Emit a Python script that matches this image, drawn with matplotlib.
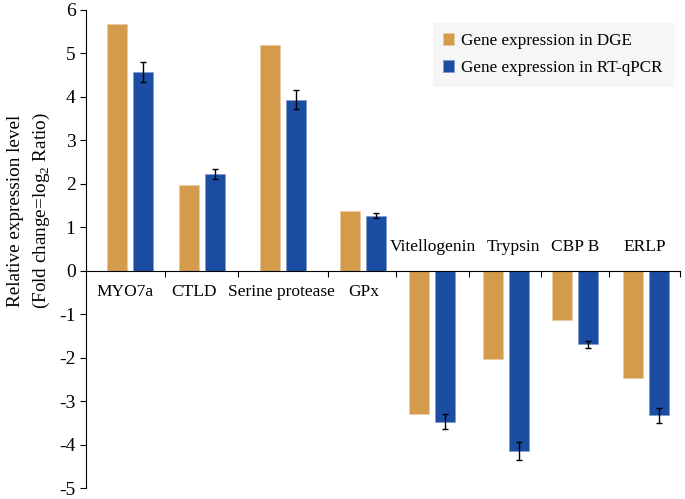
import numpy as np
import matplotlib.pyplot as plt

plt.rcParams['font.family'] = ['Liberation Serif', 'DejaVu Serif']
plt.rcParams['mathtext.fontset'] = 'custom'
plt.rcParams['mathtext.rm'] = 'Liberation Serif'
plt.rcParams['axes.unicode_minus'] = False

genes = ['MYO7a', 'CTLD', 'Serine protease', 'GPx', 'Vitellogenin', 'Trypsin', 'CBP B', 'ERLP']
dge = [5.67, 1.97, 5.19, 1.38, -3.29, -2.03, -1.13, -2.46]
qpcr = [4.58, 2.23, 3.94, 1.27, -3.47, -4.15, -1.69, -3.33]
qpcr_err = [0.23, 0.11, 0.21, 0.05, 0.18, 0.21, 0.08, 0.17]

# group layout (the original figure has uneven group spacing)
centers = [0, 0.977, 2.076, 3.161, 4.098, 5.102, 6.038, 7.0]
bounds = [0.475, 1.465, 2.686, 3.609, 4.600, 5.577, 6.499, 7.463]
label_x = [-0.07, 0.866, 2.06, 3.175, 4.11, 5.20, 6.04, 6.99]

orange = '#D39B4B'
blue = '#1B4EA2'

fig = plt.figure(figsize=(6.85, 4.99), dpi=100)
ax = fig.add_axes([0.1255, 0.022, 0.8672, 0.958])

x = np.array(centers)
w = 0.27
gap = 0.08
ax.bar(x - (w + gap) / 2, dge, w, color=orange, edgecolor='#E8C9A0', linewidth=0.5,
       label='Gene expression in DGE')
ax.bar(x + (w + gap) / 2, qpcr, w, color=blue, edgecolor='#7E9BCB', linewidth=0.5,
       label='Gene expression in RT-qPCR')
ax.errorbar(x + (w + gap) / 2, qpcr, yerr=qpcr_err, fmt='none', ecolor='black',
            elinewidth=1, capsize=2.5, capthick=1)

ax.set_xlim(-0.597, bounds[-1])
ax.set_ylim(-5, 6)
ax.set_yticks(range(-5, 7))
ax.spines['top'].set_visible(False)
ax.spines['right'].set_visible(False)
ax.spines['bottom'].set_position(('data', 0))
ax.tick_params(axis='y', labelsize=14, length=4, direction='out')
ax.set_xticks(bounds)
ax.tick_params(axis='x', length=4, direction='out', labelbottom=False)

for i, g in enumerate(genes):
    if dge[i] >= 0:
        ax.text(label_x[i], -0.48, g, ha='center', va='center', fontsize=12.5)
    else:
        ax.text(label_x[i], 0.55, g, ha='center', va='center', fontsize=12.5)

ax.set_ylabel('Relative expression level\n(Fold change=log$_{2}$ Ratio)', fontsize=13.8,
              linespacing=1.4)
ax.yaxis.set_label_coords(-0.058, 0.58)

leg = ax.legend(loc='upper right', bbox_to_anchor=(0.988, 0.973), fontsize=12.3,
                frameon=True, fancybox=False, handlelength=0.65, handleheight=0.65,
                handletextpad=0.4, borderpad=0.59, labelspacing=0.65, borderaxespad=0)
leg.get_frame().set_facecolor('#F4F4F4')
leg.get_frame().set_edgecolor('#F4F4F4')

fig.savefig('out.png', dpi=100)
